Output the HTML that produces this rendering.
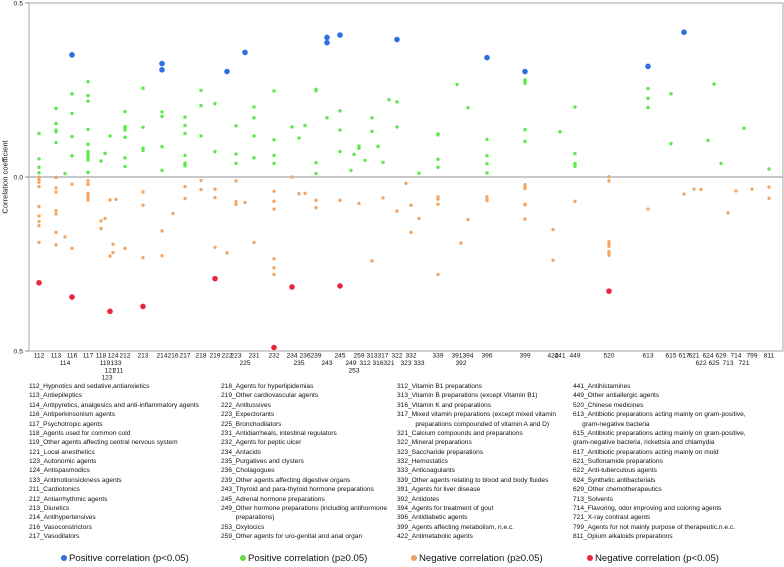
<!DOCTYPE html>
<html><head><meta charset="utf-8">
<style>
html,body{margin:0;padding:0;background:#fff;}
body{width:784px;height:567px;position:relative;overflow:hidden;font-family:"Liberation Sans",Arial,sans-serif;color:#111;}
svg{position:absolute;left:0;top:0;}
.col{position:absolute;top:382px;font-size:6.6px;line-height:9.38px;white-space:pre;}
.lg{position:absolute;top:553px;font-size:9.6px;white-space:nowrap;}
.lg .d{display:inline-block;width:6px;height:6px;border-radius:50%;margin-right:2px;vertical-align:0px;}
</style></head><body>
<svg id="chart" width="784" height="380"></svg>

<div class="col" style="left:29px">112_Hypnotics and sedative,antianxietics
113_Antiepileptics
114_Antipyretics, analgesics and anti-inflammatory agents
116_Antiperkinsonism agents
117_Psychotropic agents
118_Agents used for common cold
119_Other agents affecting central nervous system
121_Local anesthetics
123_Autonomic agents
124_Antispasmodics
133_Antimotionsickness agents
211_Cardiotonics
212_Antiarrhythmic agents
213_Diuretics
214_Antihypertensives
216_Vasoconstrictors
217_Vasodilators</div>
<div class="col" style="left:221px">218_Agents for hyperlipidemias
219_Other cardiovascular agents
222_Antitussives
223_Expectorants
225_Bronchodilators
231_Antidiarrheals, intestinal regulators
232_Agents for peptic ulcer
234_Antacids
235_Purgatives and clysters
236_Cholagogues
239_Other agents affecting digestive organs
243_Thyroid and para-thyroid hormone preparations
245_Adrenal hormone preparations
249_Other hormone preparations (including antihormone
        preparations)
253_Oxytocics
259_Other agents for uro-genital and anal organ</div>
<div class="col" style="left:397px">312_Vitamin B1 preparations
313_Vitamin B preparations (except Vitamin B1)
316_Vitamin K and preparations
317_Mixed vitamin preparations (except mixed vitamin
          preparations compounded of vitamin A and D)
321_Calcium compounds and preparations
322_Mineral preparations
323_Saccharide preparations
332_Hemostatics
333_Anticoagulants
339_Other agents relating to blood and body fluides
391_Agents for liver disease
392_Antidotes
394_Agents for treatment of gout
396_Antidiabetic agents
399_Agents affecting metabolism, n.e.c.
422_Antimetabolic agents</div>
<div class="col" style="left:573px">441_Antihistamines
449_Other antiallergic agents
520_Chinese medicines
613_Antibiotic preparations acting mainly on gram-positive,
     gram-negative bacteria
615_Antibiotic preparations acting mainly on gram-positive,
gram-negative bacteria, rickettsia and chlamydia
617_Antibiotic preparations acting mainly on mold
621_Sulfonamide preparations
622_Anti-tuberculous agents
624_Synthetic antibacterials
629_Other chemotherapeutics
713_Solvents
714_Flavoring, odor improving and coloring agents
721_X-ray contrast agents
799_Agents for not mainly purpose of therapeutic,n.e.c.
811_Opium alkaloids preparations</div>

<div class="lg" style="left:61px"><span class="d" style="background:#2f6fe0"></span>Positive correlation (p&lt;0.05)</div>
<div class="lg" style="left:240px"><span class="d" style="background:#66dd44"></span>Positive correlation (p≥0.05)</div>
<div class="lg" style="left:411px"><span class="d" style="background:#f0a060"></span>Negative correlation (p≥0.05)</div>
<div class="lg" style="left:587px"><span class="d" style="background:#e8263c"></span>Negative correlation (p&lt;0.05)</div>

<script>
// categories and their ordinal axis position (axis units)
const categories = ["112","113","114","116","117","118","119","121","123","124","133","211","212","213","214","216","217","218","219","222","223","225","231","232","234","235","236","239","243","245","249","253","259","312","313","316","317","321","322","323","332","333","339","391","392","394","396","399","422","441","449","520","613","615","617","621","622","624","625","629","713","714","721","799","811"];
const categoryAxisPos = [39,56,65,72,88,101,105,110,107,113,116,118,125,143,162,173,185,201,215,227,236,245,254,274,292,299,305,316,327,340,351,354,359,365,372,378,383,389,397,406,411,419,438,457,461,468,487,525,553,560,575,609,648,671,684,694,701,708,714,721,728,736,744,752,769];
const labelRow = [0,0,1,0,0,0,1,2,3,0,1,2,0,0,0,0,0,0,0,0,0,1,0,0,0,1,0,0,1,0,1,2,0,1,0,1,0,1,0,1,0,1,0,0,1,0,0,0,0,0,0,0,0,0,0,0,1,0,1,0,1,0,1,0,0];

const blueCats = ["116","214","214","222","225","243","243","245","322","396","399","613","617"];
const blueVals = [0.351,0.326,0.308,0.303,0.358,0.401,0.386,0.408,0.395,0.343,0.303,0.318,0.416];

const greenCats = ["112","112","112","112","113","113","113","113","113","114","116","116","116","116","117","117","117","117","117","117","117","117","117","117","117","118","119","121","212","212","212","212","212","212","212","213","213","213","213","214","214","214","214","217","217","217","217","217","217","217","218","218","218","219","219","223","223","223","231","231","231","231","232","232","232","232","234","235","236","239","239","239","239","243","245","245","245","249","253","259","259","312","313","313","316","317","321","322","322","333","339","339","339","339","391","394","396","396","396","396","399","399","399","399","399","441","449","449","449","449","449","613","613","613","615","615","624","625","629","721","811"];
const greenVals = [0.125,0.052,0.028,0.012,0.197,0.154,0.135,0.130,0.099,0.010,0.239,0.183,0.116,0.061,0.274,0.234,0.218,0.137,0.094,0.073,0.066,0.058,0.054,0.049,0.013,0.046,0.068,0.118,0.188,0.145,0.140,0.135,0.114,0.055,0.030,0.255,0.143,0.083,0.076,0.187,0.174,0.087,0.019,0.172,0.148,0.125,0.062,0.040,0.035,0.032,0.249,0.205,0.118,0.211,0.073,0.147,0.066,0.039,0.201,0.170,0.118,0.055,0.247,0.107,0.062,0.039,0.144,0.112,0.148,0.252,0.248,0.041,0.010,0.170,0.190,0.135,0.073,0.019,0.065,0.089,0.083,0.048,0.170,0.131,0.088,0.042,0.222,0.216,0.144,0.011,0.124,0.121,0.051,0.028,0.266,0.199,0.108,0.061,0.038,0.012,0.279,0.274,0.269,0.136,0.102,0.130,0.201,0.067,0.039,0.035,0.031,0.254,0.226,0.200,0.239,0.096,0.105,0.267,0.039,0.140,0.023];

const orangeCats = ["112","112","112","112","112","112","112","112","112","113","113","113","113","113","113","113","114","116","116","117","117","117","117","117","117","118","118","119","121","121","124","124","133","212","213","213","213","214","214","216","217","217","218","218","219","219","219","222","223","223","223","225","231","232","232","232","232","232","232","234","235","236","239","239","245","259","317","313","322","323","332","332","333","339","339","339","339","339","392","394","396","396","396","399","399","399","399","399","399","422","422","449","520","520","520","520","520","520","520","520","613","617","621","622","713","714","799","811","811"];
const orangeVals = [-0.001,-0.006,-0.015,-0.028,-0.085,-0.112,-0.128,-0.140,-0.188,-0.001,-0.031,-0.043,-0.097,-0.106,-0.159,-0.195,-0.172,-0.021,-0.205,-0.011,-0.021,-0.047,-0.054,-0.061,-0.066,-0.126,-0.148,-0.119,-0.066,-0.227,-0.193,-0.217,-0.064,-0.205,-0.043,-0.081,-0.232,-0.155,-0.226,-0.105,-0.028,-0.062,-0.010,-0.036,-0.035,-0.059,-0.202,-0.218,-0.011,-0.071,-0.079,-0.073,-0.188,-0.041,-0.070,-0.092,-0.235,-0.261,-0.280,0.000,-0.048,-0.047,-0.067,-0.088,-0.067,-0.076,-0.060,-0.241,-0.098,-0.018,-0.081,-0.159,-0.119,-0.057,-0.060,-0.064,-0.078,-0.280,-0.190,-0.122,-0.057,-0.062,-0.068,-0.022,-0.028,-0.033,-0.078,-0.080,-0.121,-0.151,-0.239,-0.070,0.001,-0.011,-0.186,-0.192,-0.199,-0.214,-0.219,-0.225,-0.092,-0.049,-0.035,-0.036,-0.103,-0.040,-0.035,-0.029,-0.061];

const redCats = ["112","116","121","213","219","232","234","245","520"];
const redVals = [-0.304,-0.345,-0.386,-0.372,-0.292,-0.490,-0.316,-0.313,-0.328];

const yTickVals = [0.5,0.0,-0.5];
const yTickLabels = ["0.5","0.0","0.5"];

// axis functions
const PL=29, PR=783, PT=3, PB=351;
const yDomain=[-0.5,0.5];
function yScale(v){return PB-(v-yDomain[0])/(yDomain[1]-yDomain[0])*(PB-PT);}
function xScale(cat){const i=categories.indexOf(cat);return categoryAxisPos[i];}

const NS="http://www.w3.org/2000/svg";
const svg=document.getElementById('chart');
function mk(tag,attrs){const e=document.createElementNS(NS,tag);for(const k in attrs)e.setAttribute(k,attrs[k]);return e;}

const frame=mk('rect',{x:PL,y:PT,width:PR-PL,height:PB-PT,fill:'none',stroke:'#b5b5b5','stroke-width':1.2});


svg.appendChild(frame);

const zl=mk('line',{x1:PL,x2:PR,y1:yScale(0),y2:yScale(0),stroke:'#a8a8a8','stroke-width':1.2});


svg.appendChild(zl);

yTickVals.forEach((v,i)=>{
  const t=mk('line',{x1:PL-4,x2:PL,y1:yScale(v),y2:yScale(v),stroke:'#888','stroke-width':1});
  
  
  svg.appendChild(t);
  const tx=mk('text',{x:PL-6,y:yScale(v)+2.3,'text-anchor':'end','font-size':'6.8','font-family':'Liberation Sans, sans-serif',fill:'#222'});
  tx.textContent=yTickLabels[i];
  
  
  svg.appendChild(tx);
});

const yt=mk('text',{x:0,y:0,transform:'translate(7.5,'+yScale(0)+') rotate(-90)','text-anchor':'middle','font-size':'7.6','font-family':'Liberation Sans, sans-serif',fill:'#111'});
yt.textContent='Correlation coefficient';


svg.appendChild(yt);

categories.forEach((c,i)=>{
  const tx=mk('text',{x:categoryAxisPos[i],y:357.5+labelRow[i]*7.4,'text-anchor':'middle','font-size':'6.6','font-family':'Liberation Sans, sans-serif',fill:'#111'});
  tx.textContent=c;
  
  
  svg.appendChild(tx);
});

function drawSeries(cats,vals,color,r,name){
  cats.forEach((c,i)=>{
    const p=mk('circle',{cx:xScale(c),cy:yScale(vals[i]),r:r,fill:color});
    
    
    svg.appendChild(p);
  });
}
drawSeries(orangeCats,orangeVals,'#f3a766',1.7,'point-negative-nonsignificant');
drawSeries(greenCats,greenVals,'#5be84a',1.7,'point-positive-nonsignificant');
drawSeries(blueCats,blueVals,'#2f6fe0',2.8,'point-positive-significant');
drawSeries(redCats,redVals,'#e8263c',2.8,'point-negative-significant');
</script>
</body></html>
